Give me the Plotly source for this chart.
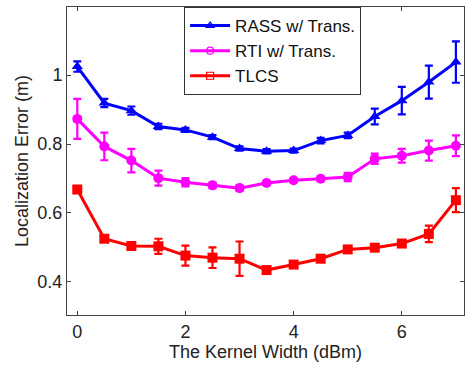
import plotly.graph_objects as go

x_vals = [0, 0.5, 1, 1.5, 2, 2.5, 3, 3.5, 4, 4.5, 5, 5.5, 6, 6.5, 7]

rass = [1.025, 0.919, 0.897, 0.851, 0.841, 0.820, 0.787, 0.779, 0.781, 0.810, 0.825, 0.880, 0.926, 0.980, 1.038]
rass_err = [0.015, 0.012, 0.012, 0.008, 0.006, 0.006, 0.006, 0.006, 0.006, 0.008, 0.008, 0.023, 0.040, 0.048, 0.060]

rti = [0.873, 0.793, 0.752, 0.701, 0.689, 0.680, 0.672, 0.687, 0.695, 0.699, 0.704, 0.757, 0.766, 0.781, 0.795]
rti_err = [0.058, 0.040, 0.034, 0.022, 0.012, 0.008, 0.008, 0.006, 0.006, 0.006, 0.012, 0.015, 0.020, 0.029, 0.030]

tlcs = [0.668, 0.525, 0.504, 0.503, 0.476, 0.470, 0.467, 0.434, 0.450, 0.467, 0.494, 0.499, 0.511, 0.539, 0.637]
tlcs_err = [0.006, 0.006, 0.006, 0.022, 0.029, 0.030, 0.050, 0.006, 0.006, 0.006, 0.006, 0.006, 0.010, 0.024, 0.035]

names = ["RASS w/ Trans.", "RTI w/ Trans.", "TLCS"]
colors = ["#0000ff", "#ff00ff", "#ff0000"]
symbols = ["triangle-up", "circle", "square"]
open_symbols = ["triangle-up-open", "circle-open", "square-open"]
series = [rass, rti, tlcs]
errs = [rass_err, rti_err, tlcs_err]

fig = go.Figure()
for name, c, s, ys, es in zip(names, colors, symbols, series, errs):
    fig.add_trace(go.Scatter(
        x=x_vals, y=ys, mode="lines+markers", showlegend=False,
        line=dict(color=c, width=3),
        marker=dict(symbol=s, size=10, color=c),
        error_y=dict(type="data", array=es, visible=True, color=c, thickness=2.2, width=4),
    ))
for name, c, s in zip(names, colors, open_symbols):
    fig.add_trace(go.Scatter(
        x=[None], y=[None], mode="lines+markers", name=name,
        line=dict(color=c, width=3),
        marker=dict(symbol=s, size=7, color=c, line=dict(width=1.2, color=c)),
    ))

axis_common = dict(
    showline=True, linecolor="#444", linewidth=1, mirror="ticks",
    ticks="inside", ticklen=4, tickcolor="#444", showgrid=False, zeroline=False,
    automargin=False,
    tickfont=dict(family="Liberation Sans, Arial", size=18, color="#222"),
)
fig.update_layout(
    width=466, height=369,
    margin=dict(l=67, r=2, t=7, b=54),
    paper_bgcolor="white", plot_bgcolor="white",
    font=dict(family="Liberation Sans, Arial", color="#222"),
    xaxis=dict(range=[-0.19, 7.15], tickvals=[0, 2, 4, 6],
               title=dict(text="The Kernel Width (dBm)", font=dict(size=18), standoff=4),
               **axis_common),
    yaxis=dict(range=[0.3035, 1.198], tickvals=[0.4, 0.6, 0.8, 1.0], ticktext=["0.4", "0.6", "0.8", "1"],
               title=dict(text="Localization Error (m)", font=dict(size=18), standoff=4),
               **axis_common),
    legend=dict(x=0.295, y=1, xanchor="left", yanchor="top",
                bgcolor="white", bordercolor="#333", borderwidth=1,
                font=dict(size=17, color="#111"), itemwidth=40, tracegroupgap=0),
)

fig.write_html("out.html", config={"displayModeBar": False},
               post_script="document.body.style.margin='0';")
